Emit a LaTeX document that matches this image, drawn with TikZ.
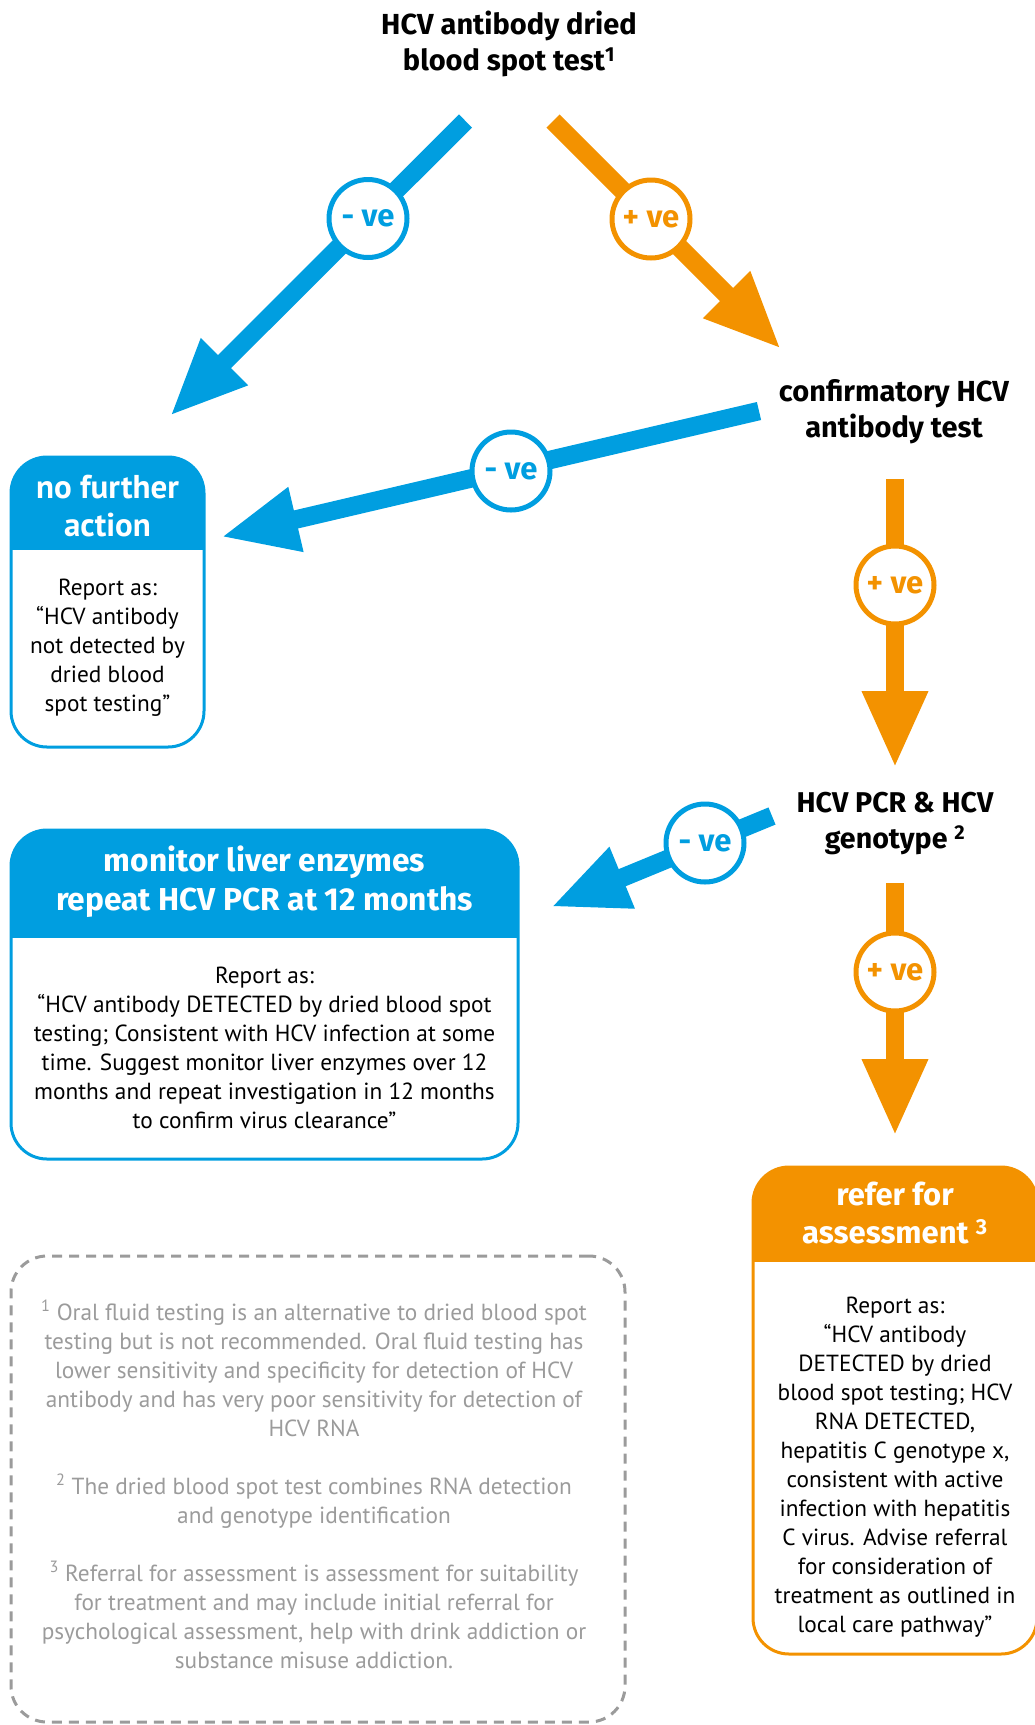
\documentclass[tikz,border=0pt]{standalone}
\usepackage{fontspec}
\setmainfont{PT Sans}
\newfontfamily\displayfont{Fira Sans}
\usetikzlibrary{arrows.meta,calc}
\definecolor{hcvblue}{RGB}{0,158,224}
\definecolor{hcvorange}{RGB}{243,146,0}
\definecolor{notegray}{RGB}{155,155,155}
\begin{document}
\begin{tikzpicture}[x=1pt,y=-1pt,
  shaft/.style={line width=18.5pt,-{Triangle[length=77pt,width=61pt]}},
  negarrow/.style={shaft,draw=hcvblue},
  posarrow/.style={shaft,draw=hcvorange},
  vering/.style={circle,draw=#1,line width=5pt,fill=white,minimum size=78pt,
    inner sep=0pt,text=#1,font=\displayfont\fontsize{31}{33}\selectfont\bfseries},
  stagetext/.style={align=center,font=\displayfont\fontsize{29}{36}\selectfont\bfseries},
  outcome/.style={draw=#1,line width=3pt,rounded corners=36pt,inner sep=0pt},
  band/.style={path picture={\fill[#1,sharp corners] (path picture bounding box.north west)
    rectangle ([yshift=-\bandheight]path picture bounding box.north east);}},
  headtext/.style={align=center,text=white,font=\displayfont\fontsize{31}{38}\selectfont\bfseries},
  reporttext/.style={align=center,font=\fontsize{23.3}{29}\selectfont},
]
\useasboundingbox (0,0) rectangle (1035,1725);

% test stages
\node[stagetext] (dbs) at (509,44) {HCV antibody dried\\blood spot test\textsuperscript{1}};
\node[stagetext] (conf) at (894,412) {confirmatory HCV\\antibody test};
\node[stagetext,font=\displayfont\fontsize{28.6}{36}\selectfont\bfseries] (pcr) at (895,824) {HCV PCR \& HCV\\genotype \textsuperscript{2}};

% outcome boxes with coloured header bands
\def\bandheight{93pt}
\node[outcome=hcvblue,band=hcvblue,minimum width=193pt,minimum height=290pt] (nfa) at (107.5,602) {};
\def\bandheight{108pt}
\node[outcome=hcvblue,band=hcvblue,minimum width=507pt,minimum height=329pt] (mon) at (264.5,994.5) {};
\def\bandheight{95pt}
\node[outcome=hcvorange,band=hcvorange,minimum width=284pt,minimum height=487pt] (ref) at (895,1410.5) {};

\node[headtext,font=\fontsize{33}{38}\selectfont\bfseries] (nfah) at (107.5,506) {no further\\action};
\node[reporttext] (nfab) at (107.5,648) {Report as:\\“HCV antibody\\not detected by\\dried blood\\spot testing”};

\node[headtext,font=\displayfont\fontsize{31.7}{39}\selectfont\bfseries] (monh) at (264.5,882) {monitor liver enzymes\\repeat HCV PCR at 12 months};
\node[reporttext] (monb) at (264.5,1048) {Report as:\\“HCV antibody DETECTED by dried blood spot\\testing; Consistent with HCV infection at some\\time. Suggest monitor liver enzymes over 12\\months and repeat investigation in 12 months\\to confirm virus clearance”};

\node[headtext] (refh) at (895,1213) {refer for\\assessment \textsuperscript{3}};
\node[reporttext] (refb) at (895,1467) {Report as:\\“HCV antibody\\DETECTED by dried\\blood spot testing; HCV\\RNA DETECTED,\\hepatitis C genotype x,\\consistent with active\\infection with hepatitis\\C virus. Advise referral\\for consideration of\\treatment as outlined in\\local care pathway”};

% footnotes
\node[draw=notegray,line width=3pt,dash pattern=on 10pt off 7pt,rounded corners=36pt,
  minimum width=614pt,minimum height=466pt,inner sep=0pt] (notes) at (318,1489) {};
\node[align=center,text=notegray,font=\fontsize{23.3}{29}\selectfont] (notest) at (314,1484)
  {\textsuperscript{1} Oral fluid testing is an alternative to dried blood spot\\
   testing but is not recommended. Oral fluid testing has\\
   lower sensitivity and specificity for detection of HCV\\
   antibody and has very poor sensitivity for detection of\\
   HCV RNA\\[29pt]
   \textsuperscript{2} The dried blood spot test combines RNA detection\\
   and genotype identification\\[29pt]
   \textsuperscript{3} Referral for assessment is assessment for suitability\\
   for treatment and may include initial referral for\\
   psychological assessment, help with drink addiction or\\
   substance misuse addiction.};

% connector end points
\coordinate (a1s) at (465.5,121);  \coordinate (a1e) at (170,416);
\coordinate (a2s) at (553,121);    \coordinate (a2e) at (781,349);
\coordinate (a3s) at (759,411);    \coordinate (a3e) at (221,537);
\coordinate (a4s) at (895,479);    \coordinate (a4e) at (895,768);
\coordinate (a5s) at (772,816);    \coordinate (a5e) at (551,907);
\coordinate (a6s) at (895,883);    \coordinate (a6e) at (895,1136);

\draw[negarrow] (a1s) -- (a1e);
\draw[posarrow] (a2s) -- (a2e);
\draw[negarrow] (a3s) -- (a3e);
\draw[posarrow] (a4s) -- (a4e);
\draw[negarrow] (a5s) -- (a5e);
\draw[posarrow] (a6s) -- (a6e);

% result labels on the connectors
\node[vering=hcvblue]   (r1) at (368,218.5) {- ve};
\node[vering=hcvorange] (r2) at (651,219)   {+ ve};
\node[vering=hcvblue]   (r3) at (511,471)   {- ve};
\node[vering=hcvorange] (r4) at (895,585)   {+ ve};
\node[vering=hcvblue]   (r5) at (705,843)   {- ve};
\node[vering=hcvorange] (r6) at (895,972)   {+ ve};
\end{tikzpicture}
\end{document}
